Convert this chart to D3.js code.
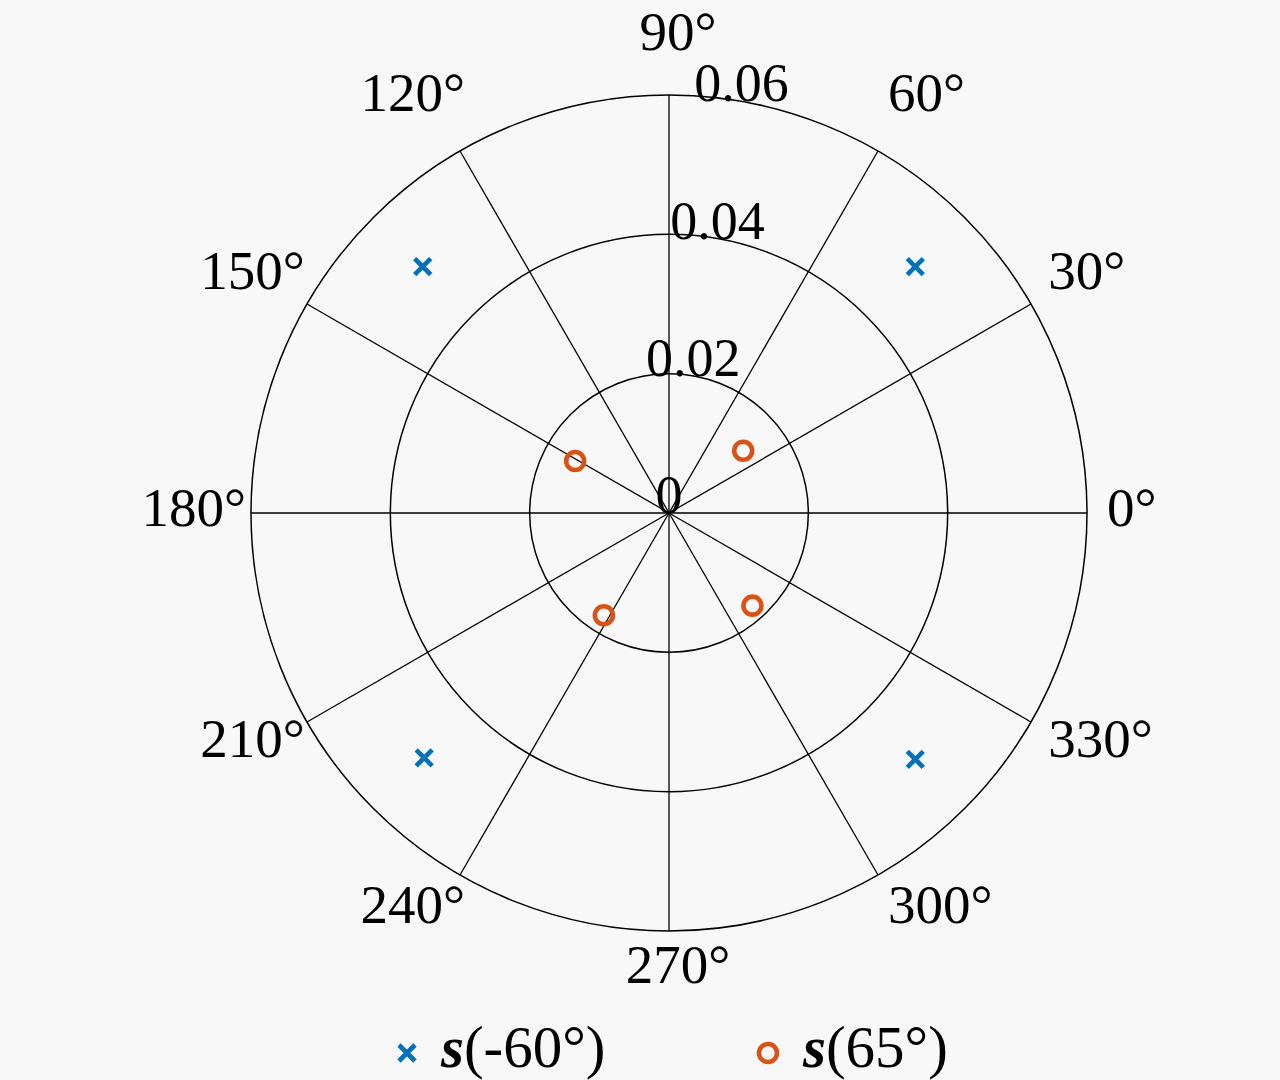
<!DOCTYPE html>
<html>
<head>
<meta charset="utf-8">
<script src="https://cdn.jsdelivr.net/npm/d3@7"></script>
<style>
  html, body { margin: 0; padding: 0; background: #f8f8f8; }
  svg { display: block; }
  text { font-family: "Liberation Serif", "Times New Roman", serif; fill: #000; }
</style>
</head>
<body>
<svg id="chart" width="1280" height="1080"></svg>
<script>
// ---- data ----
const thetaTicks = [0, 30, 60, 90, 120, 150, 180, 210, 240, 270, 300, 330];
const thetaTickLabels = ["0°", "30°", "60°", "90°", "120°", "150°", "180°", "210°", "240°", "270°", "300°", "330°"];
const rTicks = [0, 0.02, 0.04, 0.06];
const rTickLabels = ["0", "0.02", "0.04", "0.06"];

const seriesNames = ["s", "s"];
const seriesArgs = ["(-60°)", "(65°)"];
const sMinus60Theta = [45, 135, 225, 315];
const sMinus60R = [0.05, 0.05, 0.0497, 0.05];
const s65Theta = [40, 151, 237.5, 312];
const s65R = [0.0139, 0.0154, 0.0174, 0.0179];

// ---- layout ----
const W = 1280, H = 1080;
const cx = 669, cy = 513, R = 418;
const blue = "#0072BD", orange = "#D95319";
const svg = d3.select("#chart");
svg.append("rect").attr("width", W).attr("height", H).attr("fill", "#f8f8f8");

const r = d3.scaleLinear().domain([0, 0.06]).range([0, R]);
const toRad = d => d * Math.PI / 180;
const px = (t, v) => cx + r(v) * Math.cos(toRad(t));
const py = (t, v) => cy - r(v) * Math.sin(toRad(t));

const g = svg.append("g");

// grid circles
g.selectAll("circle.grid").data(rTicks.filter(v => v > 0)).enter()
  .append("circle").attr("class", "grid")
  .attr("cx", cx).attr("cy", cy).attr("r", d => r(d))
  .attr("fill", "none").attr("stroke", "#000").attr("stroke-width", 1.5);

// spokes
g.selectAll("line.spoke").data(thetaTicks).enter()
  .append("line").attr("class", "spoke")
  .attr("x1", cx).attr("y1", cy)
  .attr("x2", d => px(d, 0.06)).attr("y2", d => py(d, 0.06))
  .attr("stroke", "#000").attr("stroke-width", 1.3);

// radial tick labels at 80°
const rLabelAngle = 80;
g.selectAll("text.rlab").data(rTicks).enter()
  .append("text").attr("class", "rlab")
  .attr("x", d => px(rLabelAngle, d)).attr("y", d => py(rLabelAngle, d))
  .attr("text-anchor", "middle")
  .attr("font-size", 54)
  .text((d, i) => rTickLabels[i]);

// theta tick labels
const fs = 55, digitH = 0.67 * fs;
g.selectAll("text.tlab").data(thetaTicks).enter()
  .append("text").attr("class", "tlab")
  .attr("font-size", fs)
  .text((d, i) => thetaTickLabels[i])
  .each(function(d) {
    const c = Math.cos(toRad(d)), s = Math.sin(toRad(d));
    let anchor, x, yc;
    if (c > 0.01) { anchor = "start"; x = cx + (R + 20) * c; }
    else if (c < -0.01) { anchor = "end"; x = cx + (R + 20) * c + 15; }
    else { anchor = "middle"; x = cx + 9; }
    if (s > 0.01) yc = cy - 485 * s;
    else if (s < -0.01) yc = cy - 452 * s;
    else yc = cy - 5;
    const y = Math.max(yc + digitH / 2, 0.91 * fs);
    d3.select(this).attr("text-anchor", anchor).attr("x", x).attr("y", y);
  });

// markers
const xMark = (sel, size) => sel.append("path")
  .attr("d", `M${-size},${-size}L${size},${size}M${-size},${size}L${size},${-size}`)
  .attr("stroke", blue).attr("stroke-width", 4.6).attr("fill", "none")
  .attr("stroke-linecap", "butt");

const dataA = sMinus60Theta.map((t, i) => ({ t, v: sMinus60R[i] }));
const dataB = s65Theta.map((t, i) => ({ t, v: s65R[i] }));

g.selectAll("g.ma").data(dataA).enter().append("g").attr("class", "ma")
  .attr("transform", d => `translate(${px(d.t, d.v)},${py(d.t, d.v)})`)
  .call(sel => xMark(sel, 8));

g.selectAll("circle.mb").data(dataB).enter().append("circle").attr("class", "mb")
  .attr("cx", d => px(d.t, d.v)).attr("cy", d => py(d.t, d.v))
  .attr("r", 9).attr("fill", "none").attr("stroke", orange).attr("stroke-width", 4.6);

// legend
const lg = svg.append("g");
const legY = 1053, legBase = 1067, lfs = 59;
const leg1 = lg.append("g").attr("transform", `translate(407,${legY})`);
xMark(leg1, 8);
lg.append("text").attr("x", 441).attr("y", legBase).attr("font-size", lfs)
  .call(t => {
    t.append("tspan").attr("font-weight", "bold").attr("font-style", "italic").text(seriesNames[0]);
    t.append("tspan").text(seriesArgs[0]);
  });
lg.append("circle").attr("cx", 768).attr("cy", legY).attr("r", 9)
  .attr("fill", "none").attr("stroke", orange).attr("stroke-width", 4.6);
lg.append("text").attr("x", 803).attr("y", legBase).attr("font-size", lfs)
  .call(t => {
    t.append("tspan").attr("font-weight", "bold").attr("font-style", "italic").text(seriesNames[1]);
    t.append("tspan").text(seriesArgs[1]);
  });
</script>
</body>
</html>
